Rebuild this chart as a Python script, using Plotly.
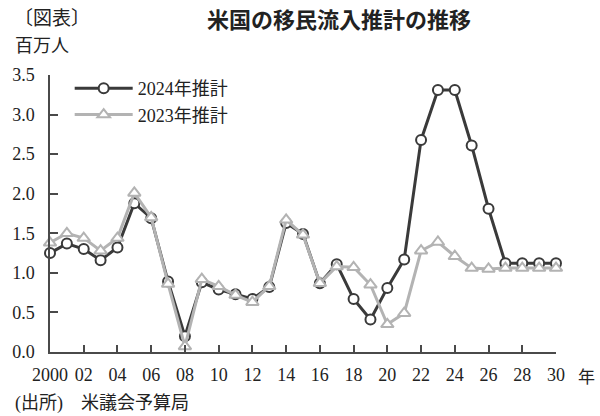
import plotly.graph_objects as go

years = list(range(2000, 2031))
est_2024 = [1.25, 1.37, 1.30, 1.16, 1.32, 1.88, 1.69, 0.89, 0.20, 0.88, 0.79, 0.73, 0.67, 0.82,
            1.63, 1.49, 0.87, 1.11, 0.67, 0.41, 0.81, 1.17, 2.68, 3.31, 3.31, 2.61, 1.81,
            1.12, 1.12, 1.12, 1.12]
est_2023 = [1.38, 1.50, 1.44, 1.28, 1.44, 2.01, 1.70, 0.86, 0.07, 0.92, 0.83, 0.72, 0.63, 0.83,
            1.67, 1.48, 0.87, 1.08, 1.07, 0.85, 0.35, 0.49, 1.28, 1.39, 1.21, 1.06, 1.05,
            1.06, 1.06, 1.06, 1.06]
series_names = ["2024年推計", "2023年推計"]
x_tickvals = list(range(2000, 2031, 2))
x_ticktext = ["2000", "02", "04", "06", "08", "10", "12", "14", "16", "18", "20", "22",
              "24", "26", "28", "30"]
y_tickvals = [0, 0.5, 1.0, 1.5, 2.0, 2.5, 3.0, 3.5]

W, H = 600, 416
L, R, T, B = 42, 556, 75, 352

def px(x):
    return (x - L) / (R - L)

def py(y):
    return (B - y) / (B - T)

serif = "'Liberation Serif', 'Times New Roman', 'Noto Sans CJK JP', serif"
cjk = "'Noto Sans CJK JP', sans-serif"
dark = "#3a3a3a"
gray = "#b3b3b3"
axis_col = "#4a4a4a"
txt = "#222"

fig = go.Figure()
fig.add_trace(go.Scatter(
    x=years, y=est_2024, name=series_names[0], mode="lines+markers",
    line=dict(color=dark, width=3),
    marker=dict(symbol="circle", size=10, color="white", line=dict(color=dark, width=2)),
    cliponaxis=False,
))
fig.add_trace(go.Scatter(
    x=years, y=est_2023, name=series_names[1], mode="lines+markers",
    line=dict(color=gray, width=3),
    marker=dict(symbol="triangle-up", size=11, color="white", line=dict(color=gray, width=2)),
    cliponaxis=False,
))

fig.update_layout(
    width=W, height=H, autosize=False,
    margin=dict(l=L, r=W - R, t=T, b=H - B, pad=0),
    paper_bgcolor="white", plot_bgcolor="white",
    font=dict(family=serif, size=18, color=txt),
    showlegend=True,
    legend=dict(x=px(62), y=py(70), xanchor="left", yanchor="top",
                bgcolor="rgba(0,0,0,0)", font=dict(family=serif, size=18, color=txt),
                tracegroupgap=0, itemwidth=58),
    xaxis=dict(range=[2000, 2030], tickvals=x_tickvals, ticktext=x_ticktext,
               showline=True, linecolor=axis_col, linewidth=1.5, ticks="inside",
               ticklen=7, tickwidth=1.5, tickcolor=axis_col, showgrid=False, zeroline=False,
               ticklabelstandoff=6, tickfont=dict(family=serif, size=18, color=txt)),
    yaxis=dict(range=[0, 3.5], tickvals=y_tickvals, tickformat=".1f",
               showline=True, linecolor=axis_col, linewidth=1.5, ticks="inside",
               ticklen=8, tickwidth=1.5, tickcolor=axis_col, showgrid=False, zeroline=False,
               ticklabelstandoff=10, tickfont=dict(family=serif, size=18, color=txt)),
)

ann = [
    dict(text="〔図表〕", x=px(3), y=py(17), xanchor="left", font=dict(family=cjk, size=19)),
    dict(text="<b>米国の移民流入推計の推移</b>", x=px(336), y=py(18), xanchor="center",
         font=dict(family=cjk, size=22)),
    dict(text="百万人", x=px(4), y=py(44), xanchor="left", font=dict(family=cjk, size=18)),
    dict(text="年", x=px(576), y=py(375), xanchor="left", font=dict(family=cjk, size=17)),
    dict(text="(出所)　米議会予算局", x=px(4), y=py(403), xanchor="left",
         font=dict(family=serif, size=18)),
]
for a in ann:
    a.update(xref="paper", yref="paper", yanchor="middle", showarrow=False)
    a["font"]["color"] = txt
    fig.add_annotation(**a)

fig.write_html("out.html")
